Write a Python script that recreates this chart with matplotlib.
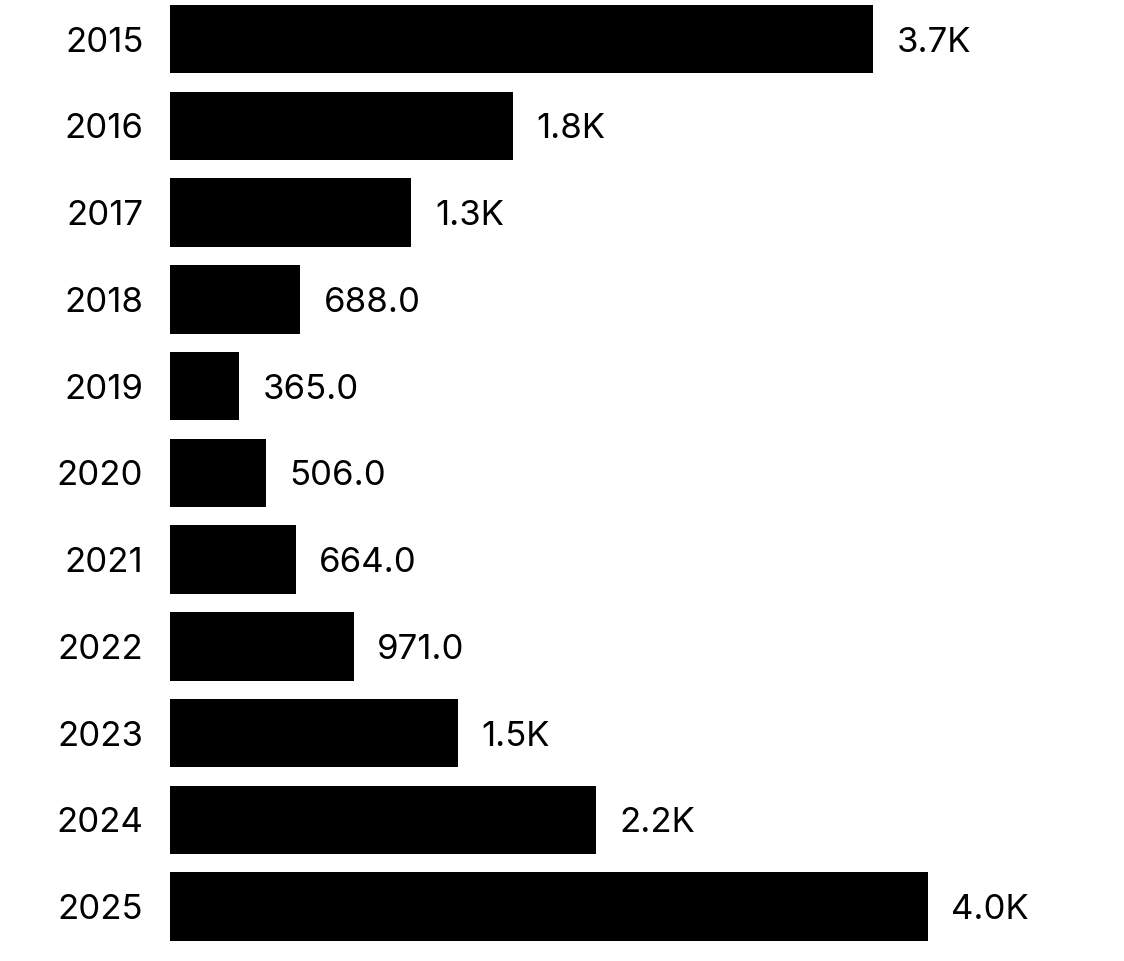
import matplotlib.pyplot as plt

# Values
years = ['2015', '2016', '2017', '2018', '2019', '2020', '2021', '2022', '2023', '2024', '2025']
counts = [3710, 1810, 1275, 688, 365, 506, 664, 971, 1520, 2250, 4000]


def fmt(v):
    if v >= 1000:
        return f'{v / 1000:.1f}K'
    return f'{v:.1f}'


plt.rcParams['font.family'] = ['Inter', 'DejaVu Sans']

fig = plt.figure(figsize=(11.24, 9.61), dpi=100)
ax = fig.add_axes([0.151, 0.0114, 0.843, 0.993])

pos = list(range(len(years)))
bars = ax.barh(pos, counts, height=0.79, color='black')
ax.set_ylim(len(years) - 0.5, -0.5)
ax.set_xlim(0, 5000)

for b, v in zip(bars, counts):
    ax.annotate(fmt(v), (b.get_width(), b.get_y() + b.get_height() / 2),
                xytext=(17, 0), textcoords='offset points',
                va='center_baseline', ha='left', fontsize=25)

ax.set_yticks(pos)
ax.set_yticklabels(years, fontsize=25, va='center_baseline')
ax.tick_params(axis='y', length=0, pad=19)
ax.set_xticks([])
for s in ax.spines.values():
    s.set_visible(False)

plt.savefig('out.png', dpi=100)
